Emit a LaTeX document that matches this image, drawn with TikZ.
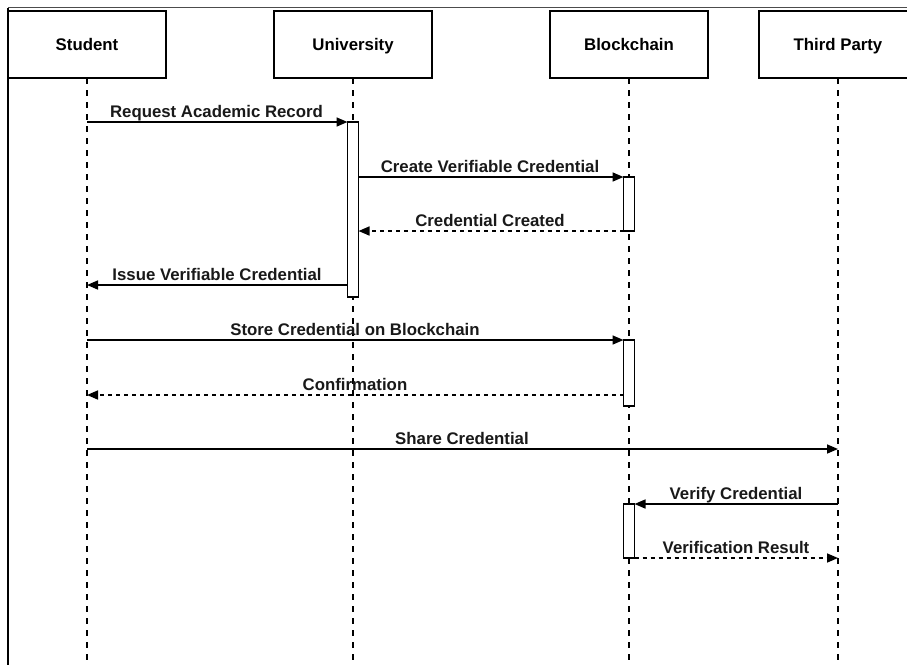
\documentclass[tikz,border=0pt]{standalone}
\usepackage{fontspec}
\setmainfont{Liberation Sans}
\usetikzlibrary{arrows.meta}
\begin{document}
\begin{tikzpicture}[x=1pt,y=-1pt,
  font=\fontsize{16.8}{20}\selectfont\bfseries,
  actor/.style={draw, line width=1.3pt, minimum width=158pt, minimum height=67pt, inner sep=0pt, outer sep=0pt, fill=white, text height=12pt, text depth=0pt},
  life/.style={line width=1.3pt, dash pattern=on 6pt off 6pt},
  act/.style={draw, line width=1.3pt, fill=white, minimum width=11pt, inner sep=0pt, outer sep=0pt},
  msg/.style={line width=1.6pt, -{Triangle[length=11pt,width=9pt]}},
  ret/.style={msg, dash pattern=on 4pt off 4pt},
  lbl/.style={anchor=base, inner sep=0pt, text=black!90}]
\useasboundingbox (0,0) rectangle (907,665);
\fill[white] (0,0) rectangle (907,665);
% frame
\draw[line width=1.5pt, black!70] (8,7.5) -- (907,7.5);
\draw[line width=1.3pt] (8,7.5) -- (8,665);
% actors
\node[actor] (st) at (87,44.5) {Student};
\node[actor] (un) at (353,44.5) {University};
\node[actor] (bc) at (629,44.5) {Blockchain};
\node[actor] (tp) at (838,44.5) {Third Party};
% lifelines
\coordinate (stend) at (87,665);
\coordinate (unend) at (353,665);
\coordinate (bcend) at (629,665);
\coordinate (tpend) at (838,665);
\draw[life] (st.south) -- (stend);
\draw[life] (un.south) -- (unend);
\draw[life] (bc.south) -- (bcend);
\draw[life] (tp.south) -- (tpend);
% activations
\node[act, minimum height=175pt, anchor=north] (ua) at (353,122) {};
\node[act, minimum height=54pt, anchor=north] (ba1) at (629,177) {};
\node[act, minimum height=66pt, anchor=north] (ba2) at (629,340) {};
\node[act, minimum height=54pt, anchor=north] (ba3) at (629,504) {};
% lifeline points
\coordinate (s1) at (87,122);
\coordinate (u2) at (ua.east |- 0,177);
\coordinate (u3) at (ua.east |- 0,231);
\coordinate (u4) at (ua.west |- 0,285);
\coordinate (s4) at (87,285);
\coordinate (s5) at (87,340);
\coordinate (b6) at (ba2.west |- 0,395);
\coordinate (s6) at (87,395);
\coordinate (s7) at (87,449);
\coordinate (t7) at (838,449);
\coordinate (t8) at (838,504);
\coordinate (t9) at (838,558);
% messages
\draw[msg] (s1) -- (ua.north west);
\node[lbl] at (216.5,117) {Request Academic Record};
\draw[msg] (u2) -- (ba1.north west);
\node[lbl] at (490,172) {Create Verifiable Credential};
\draw[ret] (ba1.south west) -- (u3);
\node[lbl] at (490,226) {Credential Created};
\draw[msg] (u4) -- (s4);
\node[lbl] at (217,280) {Issue Verifiable Credential};
\draw[msg] (s5) -- (ba2.north west);
\node[lbl] at (355,335) {Store Credential on Blockchain};
\draw[ret] (b6) -- (s6);
\node[lbl] at (355,390) {Confirmation};
\draw[msg] (s7) -- (t7);
\node[lbl] at (462,444) {Share Credential};
\draw[msg] (t8) -- (ba3.north east);
\node[lbl] at (736,499) {Verify Credential};
\draw[ret] (ba3.south east) -- (t9);
\node[lbl] at (736,553) {Verification Result};
\end{tikzpicture}
\end{document}
